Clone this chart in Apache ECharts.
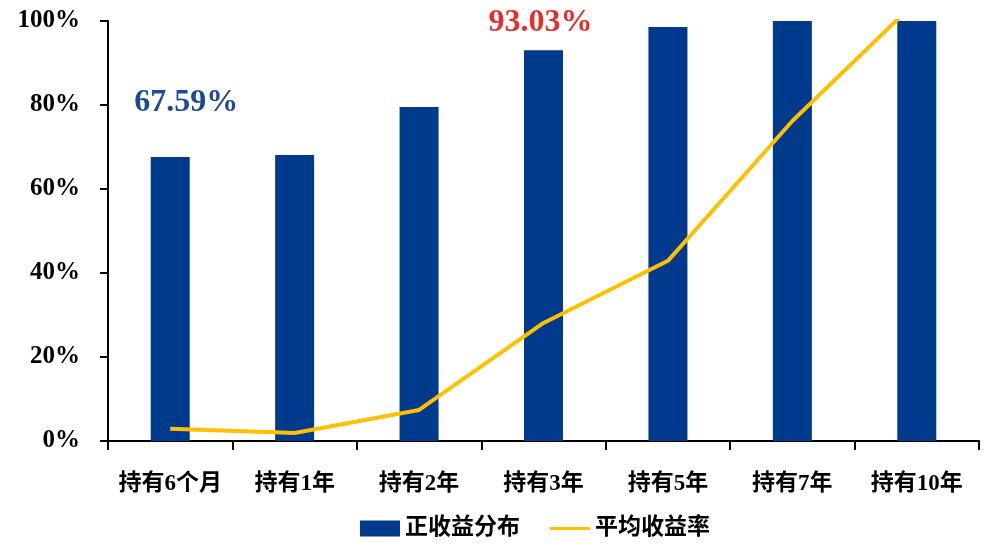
<!DOCTYPE html>
<html><head><meta charset="utf-8">
<script src="https://cdn.jsdelivr.net/npm/echarts@6/dist/echarts.min.js"></script>
<style>html,body{margin:0;padding:0;background:#fff}#c{width:1003px;height:548px}</style>
</head><body><div id="c"></div>
<script>
const categories = ['持有6个月','持有1年','持有2年','持有3年','持有5年','持有7年','持有10年'];
const positiveShare = [67.59, 68.1, 79.5, 93.03, 98.6, 100, 100];
const avgReturn = [2.9, 1.9, 7.4, 28.1, 42.9, 76.2, 104.8];
const yTicks = [0, 20, 40, 60, 80, 100];
const seriesNames = ['正收益分布', '平均收益率'];

const FONT = '"Liberation Serif", "Noto Sans CJK SC", serif';
const chart = echarts.init(document.getElementById('c'));
const barData = positiveShare.map((v, i) => {
  if (i === 0) return {value: v, label: {show: true, position: 'top', distance: 38, offset: [16, 0], color: '#1B4A98'}};
  if (i === 3) return {value: v, label: {show: true, position: 'top', distance: 12, offset: [-3, 0], color: '#E3302B'}};
  return v;
});
chart.setOption({
  animation: false,
  grid: {left: 108, right: 24, top: 21, bottom: 107},
  legend: {
    bottom: 3, left: 355,
    itemGap: 30, itemWidth: 40, itemHeight: 16,
    textStyle: {fontFamily: FONT, fontSize: 23, fontWeight: 'bold', color: '#000'},
    data: [
      {name: seriesNames[0], icon: 'rect'},
      {name: seriesNames[1], icon: 'path://M0,0 L0.01,0 L0.01,0.01 Z M0,6.5 L40,6.5 L40,9.5 L0,9.5 Z M0,15.99 L0.01,16 L0,16 Z'}
    ]
  },
  xAxis: {
    type: 'category', data: categories,
    axisLine: {lineStyle: {color: '#000', width: 2}},
    axisTick: {show: true, length: 9, lineStyle: {color: '#000', width: 2}},
    axisLabel: {interval: 0, hideOverlap: false, margin: 32, fontFamily: FONT, fontSize: 23, fontWeight: 'bold', color: '#000'}
  },
  yAxis: {
    type: 'value', min: 0, max: 100, interval: 20,
    splitLine: {show: false},
    axisLine: {show: true, lineStyle: {color: '#000', width: 2}},
    axisTick: {show: true, length: 8, lineStyle: {color: '#000', width: 2}},
    axisLabel: {margin: 28, fontFamily: FONT, fontSize: 25, fontWeight: 'bold', color: '#000',
      formatter: v => yTicks.includes(v) ? v + '%' : ''}
  },
  series: [
    {
      name: seriesNames[0], type: 'bar', data: barData, barWidth: 39,
      itemStyle: {color: '#003A8C'},
      label: {show: false, fontFamily: FONT, fontSize: 32, fontWeight: 'bold', formatter: p => p.value.toFixed(2) + '%'}
    },
    {
      name: seriesNames[1], type: 'line', data: avgReturn, clip: true,
      symbol: 'none', lineStyle: {color: '#FFC000', width: 4}, itemStyle: {color: '#FFC000'}
    }
  ]
});
</script></body></html>
